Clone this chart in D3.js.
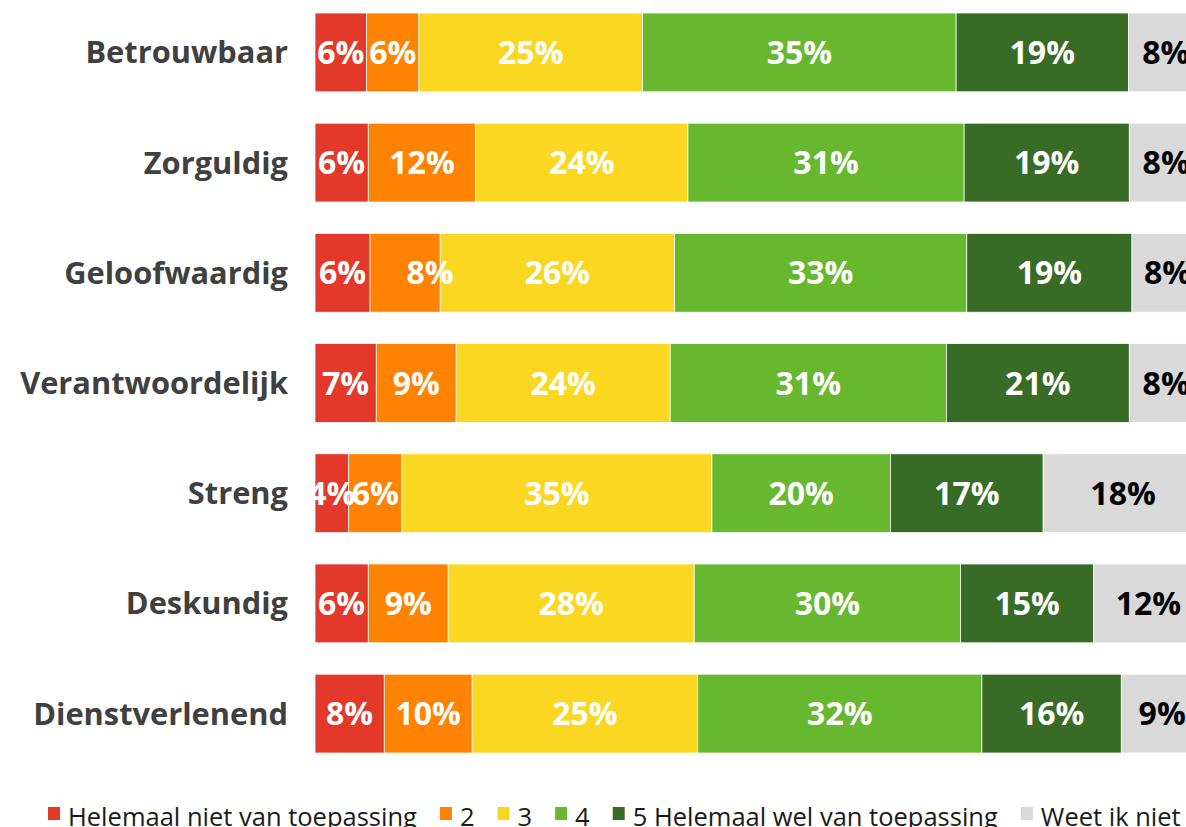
<!DOCTYPE html>
<html>
<head>
<meta charset="utf-8">
<script src="https://cdn.jsdelivr.net/npm/d3@7"></script>
<style>
  body{margin:0;overflow:hidden;background:#fff}
</style>
</head>
<body>
<script>
// categories, top to bottom
const categories = ["Betrouwbaar","Zorguldig","Geloofwaardig","Verantwoordelijk","Streng","Deskundig","Dienstverlenend"];
const seriesNames = ["Helemaal niet van toepassing","2","3","4","5 Helemaal wel van toepassing","Weet ik niet"];

// percentages per series, same order as categories
const helemaalNiet = [5.8, 6.0, 6.2, 6.9, 3.8, 6.0, 7.8];
const score2       = [5.9, 12.1, 7.9, 9.0, 6.0, 9.0, 9.9];
const score3       = [25.2, 23.9, 26.4, 24.1, 34.9, 27.7, 25.4];
const score4       = [35.3, 31.1, 32.9, 31.1, 20.1, 30.0, 32.0];
const helemaalWel  = [19.4, 18.6, 18.6, 20.6, 17.2, 15.0, 15.7];
const weetNiet     = [8.4, 8.3, 8.0, 8.3, 18.0, 12.3, 9.2];

let seriesValues = [helemaalNiet, score2, score3, score4, helemaalWel, weetNiet];
let colors = ["#e2392a","#ff8200","#fbd721","#67b82e","#386b25","#d9d9d9"];
let labelColors = ["#fff","#fff","#fff","#fff","#fff","#000"];

let W = 1186, H = 827;
let svg = d3.select('body').append('svg')
  .attr('width', W).attr('height', H);

// table for d3.stack
let rows = categories.map((c,i)=>{
  let r = {cat:c};
  seriesNames.forEach((s,j)=>{ r[s] = seriesValues[j][i]; });
  return r;
});
let stacked = d3.stack().keys(seriesNames)(rows);

let x = d3.scaleLinear().domain([0,100]).range([315,1203]);
let y = d3.scaleBand().domain(categories).range([13,753]).paddingInner(0.285).paddingOuter(0);

// label nudges taken from the original (only one label was moved by hand)
let labelShift = {"Geloofwaardig|2": 25};

svg.append('g').selectAll('g')
  .data(stacked).enter()
  .append('g')
  .attr('fill',(d,i)=>colors[i])
  .selectAll('rect')
  .data(d=>d).enter()
  .append('rect')
    .attr('x',d=>x(d[0]))
    .attr('y',d=>y(d.data.cat))
    .attr('width',d=>x(d[1])-x(d[0]))
    .attr('height',y.bandwidth())
    .attr('stroke','#fff')
    .attr('stroke-width',0.75);

// labels after all the bars so none is hidden by the next segment
svg.append('g').selectAll('g')
  .data(stacked).enter()
  .append('g')
  .attr('fill',(d,i)=>labelColors[i])
  .each(function(s){
    d3.select(this).selectAll('text')
      .data(s).enter()
      .append('text')
        .attr('x',d=>(x(d[0])+x(d[1]))/2 + (labelShift[d.data.cat+'|'+s.key]||0))
        .attr('y',d=>y(d.data.cat)+y.bandwidth()/2)
        .attr('dy','0.36em')
        .attr('text-anchor','middle')
        .style('font-family','"Open Sans", sans-serif')
        .style('font-weight','700')
        .style('font-size','32px')
        .text(d=>Math.round(d[1]-d[0])+'%');
  });

// category axis (labels only)
let yAxis = d3.axisLeft(y).tickSize(0).tickPadding(0);
let gy = svg.append('g').attr('transform','translate(288,0)').call(yAxis);
gy.select('.domain').remove();
gy.selectAll('text')
  .attr('fill','#404040')
  .attr('dy','0.36em')
  .style('font-family','"Open Sans", sans-serif')
  .style('font-weight','700')
  .style('font-size','30.8px');

// legend along the bottom
let legend = svg.append('g').attr('class','legend');
let lx = 48, baseY = 826;
seriesNames.forEach((name,i)=>{
  legend.append('rect')
    .attr('x',lx).attr('y',807)
    .attr('width',12).attr('height',13)
    .attr('fill',colors[i]);
  let t = legend.append('text')
    .attr('x',lx+20).attr('y',baseY)
    .attr('fill','#1a1a1a')
    .style('font-family','"Open Sans", sans-serif')
    .style('font-size','25.5px')
    .text(name);
  lx += 20 + t.node().getComputedTextLength() + 23;
});
</script>
</body>
</html>
